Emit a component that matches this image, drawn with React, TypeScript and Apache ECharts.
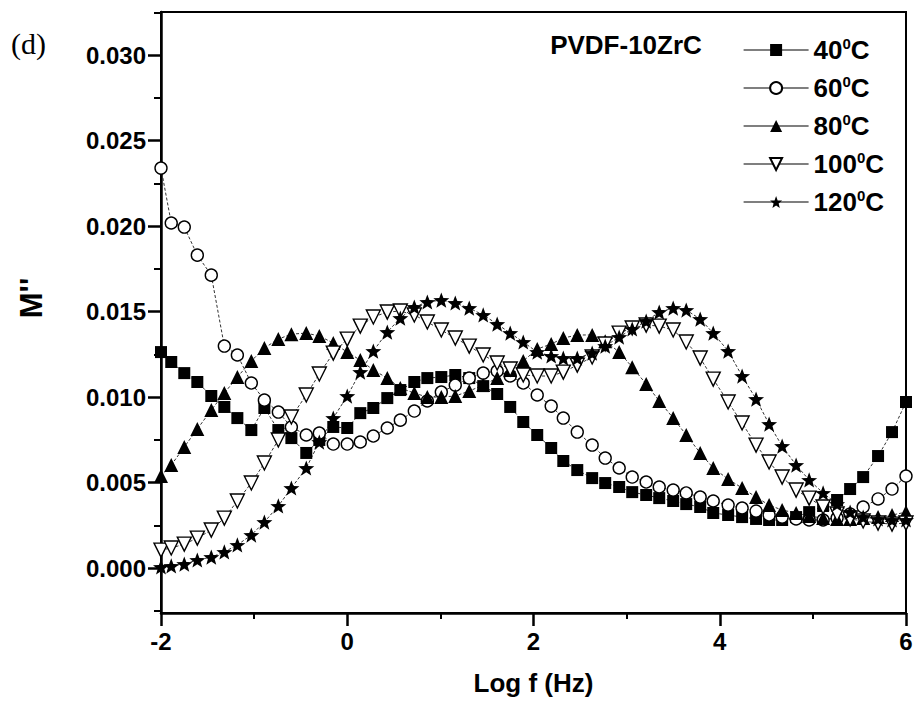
import React, { useEffect, useRef } from 'react';
import * as echarts from 'echarts';

// ---- data ----
const logF = [
  -2.0, -1.89, -1.75, -1.61, -1.46, -1.32, -1.18, -1.03, -0.89, -0.74,
  -0.6, -0.44, -0.3, -0.15, 0.0, 0.14, 0.28, 0.43, 0.57, 0.72,
  0.86, 1.01, 1.16, 1.31, 1.46, 1.61, 1.75, 1.89, 2.04, 2.19,
  2.32, 2.47, 2.63, 2.77, 2.92, 3.06, 3.21, 3.35, 3.5, 3.64,
  3.79, 3.93, 4.09, 4.24, 4.39, 4.53, 4.67, 4.82, 4.96, 5.11,
  5.26, 5.4, 5.54, 5.7, 5.85, 6.0,
];

const m40 = [
  0.01263, 0.01205, 0.0114, 0.01088, 0.01006, 0.00942, 0.00877, 0.00807, 0.00936, 0.00807,
  0.0076, 0.00673, 0.00749, 0.00825, 0.00819, 0.00906, 0.00936, 0.00994, 0.01041, 0.01088,
  0.01111, 0.01117, 0.01129, 0.01111, 0.01064, 0.01018, 0.00942, 0.00854, 0.00778, 0.00702,
  0.00626, 0.00573, 0.00526, 0.00497, 0.00474, 0.00444, 0.00427, 0.00409, 0.00392, 0.00374,
  0.00357, 0.00322, 0.0031, 0.00298, 0.00287, 0.00281, 0.00281, 0.00298, 0.00327, 0.00363,
  0.00398, 0.00462, 0.00532, 0.00655, 0.00795, 0.00971,
];

const m60 = [
  0.02339, 0.02018, 0.01994, 0.0183, 0.01713, 0.01298, 0.01246, 0.01082, 0.00982, 0.00912,
  0.00825, 0.00778, 0.00789, 0.00725, 0.00725, 0.00737, 0.00772, 0.00819, 0.00865, 0.00918,
  0.00977, 0.01029, 0.0107, 0.01111, 0.0114, 0.01152, 0.01123, 0.01082, 0.01012, 0.00947,
  0.00877, 0.00795, 0.00719, 0.00643, 0.00585, 0.00532, 0.00503, 0.00474, 0.00456, 0.00439,
  0.00415, 0.00392, 0.00368, 0.00351, 0.00333, 0.0031, 0.00298, 0.00287, 0.00281, 0.00281,
  0.00292, 0.00316, 0.00357, 0.00404, 0.00462, 0.00538,
];

const m80 = [
  0.00538, 0.00602, 0.00708, 0.00813, 0.00924, 0.01023, 0.01117, 0.01211, 0.01287, 0.01339,
  0.01368, 0.01374, 0.01357, 0.01316, 0.01263, 0.01216, 0.01158, 0.01111, 0.01053, 0.01023,
  0.01, 0.01, 0.01006, 0.01035, 0.0107, 0.01111, 0.01158, 0.01211, 0.01281, 0.0131,
  0.01345, 0.01363, 0.01363, 0.01327, 0.01263, 0.01175, 0.01076, 0.00977, 0.00877, 0.00778,
  0.00673, 0.00585, 0.0052, 0.00468, 0.00415, 0.00368, 0.00339, 0.00322, 0.00304, 0.00292,
  0.00287, 0.00287, 0.00292, 0.00298, 0.0031, 0.00327,
];

const m100 = [
  0.00105, 0.00117, 0.0014, 0.00175, 0.00222, 0.00292, 0.00392, 0.00497, 0.00614, 0.00749,
  0.00883, 0.01012, 0.01135, 0.01257, 0.01339, 0.01415, 0.01468, 0.01497, 0.01503, 0.0148,
  0.01439, 0.01392, 0.01345, 0.01298, 0.01246, 0.01199, 0.01164, 0.01129, 0.01123, 0.01123,
  0.01146, 0.01187, 0.01234, 0.0131, 0.01374, 0.01404, 0.01421, 0.01415, 0.01392, 0.01322,
  0.01228, 0.01105, 0.00971, 0.00848, 0.00719, 0.0062, 0.00532, 0.00456, 0.00409, 0.00357,
  0.00316, 0.00287, 0.00275, 0.00263, 0.00257, 0.00263,
];

const m120 = [
  0.00006, 0.00012, 0.00023, 0.00047, 0.00064, 0.00094, 0.00135, 0.00193, 0.00269, 0.00363,
  0.00468, 0.00585, 0.00737, 0.00877, 0.01006, 0.01146, 0.01269, 0.0138, 0.01462, 0.01526,
  0.01556, 0.01567, 0.0155, 0.0152, 0.0148, 0.01427, 0.01374, 0.01322, 0.01263, 0.0124,
  0.01228, 0.01228, 0.01257, 0.01298, 0.01351, 0.01398, 0.01444, 0.01497, 0.0152, 0.01509,
  0.01456, 0.01374, 0.01269, 0.01123, 0.00988, 0.00842, 0.00713, 0.00602, 0.00515, 0.00439,
  0.00374, 0.00327, 0.00298, 0.00287, 0.00281, 0.00281,
];

const seriesNames = ['40°C', '60°C', '80°C', '100°C', '120°C'];
const xTicks = [-2, 0, 2, 4, 6];
const xMinorTicks = [-1, 1, 3, 5];
const yTicks = [0, 0.005, 0.01, 0.015, 0.02, 0.025, 0.03];
const yMinorTicks = [-0.0025, 0.0025, 0.0075, 0.0125, 0.0175, 0.0225, 0.0275, 0.0325];
const xTitle = 'Log f (Hz)';
const yTitle = "M''";
const sampleTitle = 'PVDF-10ZrC';
const panelLabel = '(d)';

// ---- styling ----
const FONT = '"Liberation Sans", Arial, Helvetica, sans-serif';
const STAR =
  'path://M10,0L12.47,6.6L19.51,6.91L14,11.3L15.88,18.09L10,14.2L4.12,18.09L6,11.3L0.49,6.91L7.53,6.6Z';
const TICK_COLOR = '#000';

const looks = [
  { symbol: 'rect', size: 12, fill: '#000', rotate: 0 },
  { symbol: 'circle', size: 12, fill: '#fff', rotate: 0 },
  { symbol: 'triangle', size: 14, fill: '#000', rotate: 0 },
  { symbol: 'triangle', size: 14, fill: '#fff', rotate: 180 },
  { symbol: STAR, size: 16, fill: '#000', rotate: 0 },
];
const values = [m40, m60, m80, m100, m120];

const Y_MIN = -0.00263;
const Y_MAX = 0.03252;

const labelText = { fontSize: 24, fontWeight: 'bold', fontFamily: FONT, color: '#000' };

function buildOption(): any {
  const series = seriesNames.map((name, si) => {
    const lk = looks[si];
    return {
      type: 'line',
      name,
      xAxisIndex: 0,
      yAxisIndex: 0,
      data: logF.map((x, i) => [x, values[si][i]]),
      symbol: lk.symbol,
      symbolSize: lk.size,
      symbolRotate: lk.rotate,
      symbolKeepAspect: true,
      showSymbol: true,
      showAllSymbol: true,
      silent: true,
      lineStyle: { color: '#333', width: 1, type: [3, 2] },
      itemStyle: {
        color: lk.fill,
        borderColor: '#000',
        borderWidth: lk.fill === '#fff' ? 1.4 : 0,
      },
      emphasis: { disabled: true },
    };
  });

  return {
    animation: false,
    backgroundColor: '#fff',
    grid: {
      left: 161,
      right: 11,
      top: 12,
      bottom: 91,
      show: true,
      borderColor: '#000',
      borderWidth: 2,
      backgroundColor: 'transparent',
    },
    xAxis: [
      {
        type: 'value',
        min: -2,
        max: 6,
        interval: 2,
        position: 'bottom',
        axisLine: { show: true, onZero: false, lineStyle: { color: '#000', width: 2.5 } },
        axisTick: { show: true, inside: false, length: 13, customValues: xTicks, lineStyle: { color: TICK_COLOR, width: 2.5 } },
        minorTick: { show: false },
        axisLabel: { ...labelText, customValues: xTicks, margin: 16, formatter: (v: number) => String(v) },
        splitLine: { show: false },
        name: xTitle,
        nameLocation: 'middle',
        nameGap: 57,
        nameTextStyle: { fontSize: 26, fontWeight: 'bold', fontFamily: FONT, color: '#000' },
      },
      {
        type: 'value',
        min: -2,
        max: 6,
        position: 'bottom',
        axisLine: { show: false, onZero: false },
        axisTick: { show: true, inside: false, length: 6, customValues: xMinorTicks, lineStyle: { color: '#000', width: 2 } },
        axisLabel: { show: false },
        splitLine: { show: false },
      },
    ],
    yAxis: [
      {
        type: 'value',
        min: Y_MIN,
        max: Y_MAX,
        position: 'left',
        axisLine: { show: true, onZero: false, lineStyle: { color: '#000', width: 2.5 } },
        axisTick: { show: true, inside: false, length: 13, customValues: yTicks, lineStyle: { color: TICK_COLOR, width: 2.5 } },
        axisLabel: { ...labelText, customValues: yTicks, margin: 15, formatter: (v: number) => v.toFixed(3) },
        splitLine: { show: false },
      },
      {
        type: 'value',
        min: Y_MIN,
        max: Y_MAX,
        position: 'left',
        axisLine: { show: false, onZero: false },
        axisTick: { show: true, inside: false, length: 7, customValues: yMinorTicks, lineStyle: { color: '#000', width: 2 } },
        axisLabel: { show: false },
        splitLine: { show: false },
      },
    ],
    legend: {
      orient: 'vertical',
      left: 743,
      top: 36,
      padding: 0,
      itemGap: 11,
      itemWidth: 65,
      itemHeight: 15,
      selectedMode: false,
      data: seriesNames,
      lineStyle: { type: 'solid', color: '#000', width: 1.2 },
      formatter: (n: string) => `{n|${n.replace('°C', '')}}{s|0}{n|C}`,
      textStyle: {
        color: '#000',
        fontFamily: FONT,
        fontSize: 26,
        fontWeight: 'bold',
        rich: {
          n: { fontSize: 26, fontWeight: 'bold', fontFamily: FONT, color: '#000', lineHeight: 28 },
          s: { fontSize: 15, fontWeight: 'bold', fontFamily: FONT, color: '#000', lineHeight: 16, verticalAlign: 'top' },
        },
      },
    },
    graphic: [
      {
        type: 'text',
        x: 11,
        y: 43,
        style: {
          text: panelLabel,
          font: '30px "Liberation Serif", serif',
          fill: '#000',
          align: 'left',
          verticalAlign: 'middle',
        },
      },
      {
        type: 'text',
        x: 31,
        y: 298,
        rotation: Math.PI / 2,
        style: {
          text: yTitle,
          font: 'bold 31px "Liberation Sans", Arial, sans-serif',
          fill: '#000',
          align: 'center',
          verticalAlign: 'middle',
        },
      },
      {
        type: 'text',
        x: 626,
        y: 45,
        style: {
          text: sampleTitle,
          font: 'bold 26px "Liberation Sans", Arial, sans-serif',
          fill: '#000',
          align: 'center',
          verticalAlign: 'middle',
        },
      },
    ],
    series,
  };
}

export default function App() {
  const ref = useRef<HTMLDivElement>(null);
  useEffect(() => {
    if (!ref.current) return;
    const chart = echarts.init(ref.current, null, { renderer: 'svg' });
    chart.setOption(buildOption());
    return () => chart.dispose();
  }, []);
  return (
    <div
      ref={ref}
      style={{ position: 'absolute', left: 0, top: 0, width: 917, height: 704, background: '#fff' }}
    />
  );
}
